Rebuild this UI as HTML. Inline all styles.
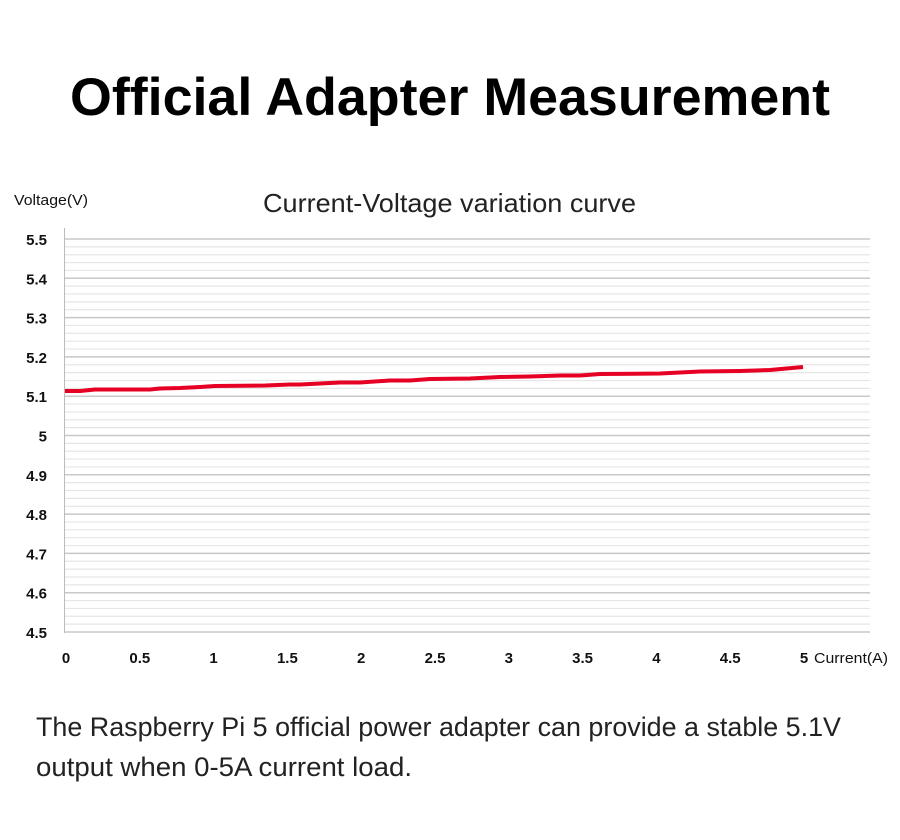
<!DOCTYPE html>
<html><head><meta charset="utf-8"><style>
body{margin:0;width:900px;height:835px;background:#fff;overflow:hidden;font-family:"Liberation Sans",sans-serif}
</style></head><body>
<svg width="900" height="835" xmlns="http://www.w3.org/2000/svg" font-family="Liberation Sans, sans-serif">
<text x="450" y="115" text-anchor="middle" font-size="53" font-weight="bold" fill="#000" textLength="760" lengthAdjust="spacingAndGlyphs">Official Adapter Measurement</text>
<text x="14" y="205" font-size="15" fill="#111" textLength="74" lengthAdjust="spacingAndGlyphs">Voltage(V)</text>
<text x="263" y="212" font-size="26" fill="#222" textLength="373" lengthAdjust="spacingAndGlyphs">Current-Voltage variation curve</text>
<g id="grid"></g>
<line x1="64.5" y1="228" x2="64.5" y2="633" stroke="#bbb" stroke-width="1"/>
<g font-size="15" font-weight="bold" fill="#111" text-anchor="end" id="yl"></g>
<g font-size="15" font-weight="bold" fill="#111" text-anchor="middle" id="xl"></g>
<text x="814" y="663" font-size="15" fill="#111" textLength="74" lengthAdjust="spacingAndGlyphs">Current(A)</text>
<polyline fill="none" stroke="#e60023" stroke-width="4" stroke-linejoin="round" points="65,391 80,391 95,389.5 150,389.5 160,388.5 180,388 200,387 215,386 265,385.5 290,384.5 300,384.5 340,382.5 360,382.5 390,380.5 410,380.5 430,379 470,378.5 500,377 530,376.5 560,375.5 580,375.5 600,374 660,373.5 680,372.5 700,371.5 740,371 770,370 803,367"/>
<text x="36" y="736" font-size="26.5" fill="#222" textLength="805" lengthAdjust="spacingAndGlyphs">The Raspberry Pi 5 official power adapter can provide a stable 5.1V</text>
<text x="36" y="776" font-size="26.5" fill="#222" textLength="376" lengthAdjust="spacingAndGlyphs">output when 0-5A current load.</text>
<script>
var g=document.getElementById('grid'),yl=document.getElementById('yl'),xl=document.getElementById('xl'),ns='http://www.w3.org/2000/svg';
for(var i=0;i<=50;i++){var y=239+i*393/50;var l=document.createElementNS(ns,'line');l.setAttribute('x1',65);l.setAttribute('x2',870);l.setAttribute('y1',y);l.setAttribute('y2',y);l.setAttribute('stroke',i%5==0?'#c8c8c8':'#e6e6e6');l.setAttribute('stroke-width',i%5==0?1.5:1.2);g.appendChild(l);}
var labs=['5.5','5.4','5.3','5.2','5.1','5','4.9','4.8','4.7','4.6','4.5'];
for(var i=0;i<11;i++){var t=document.createElementNS(ns,'text');t.setAttribute('x',47);t.setAttribute('y',239+i*39.3+6);t.textContent=labs[i];yl.appendChild(t);}
var xs=['0','0.5','1','1.5','2','2.5','3','3.5','4','4.5','5'];
for(var i=0;i<11;i++){var t=document.createElementNS(ns,'text');t.setAttribute('x',66+i*73.8);t.setAttribute('y',663);t.textContent=xs[i];xl.appendChild(t);}
</script>
</svg>
</body></html>
